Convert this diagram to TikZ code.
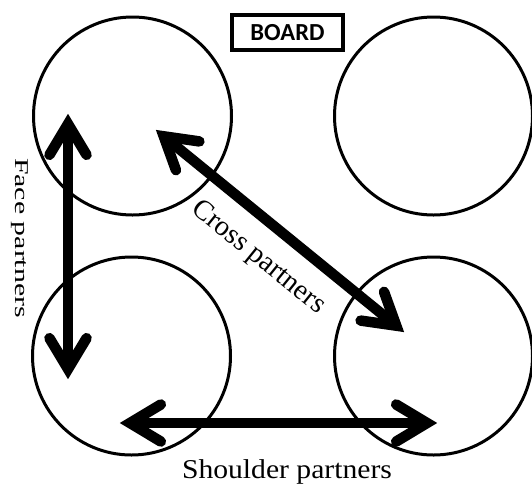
\documentclass[tikz,border=0pt]{standalone}
\usepackage{fontspec}
\setmainfont{Liberation Serif}
\newfontfamily\boardfont{Carlito}
\usetikzlibrary{calc}

\tikzset{
  seat/.style={circle, draw, line width=3pt, minimum size=198pt, inner sep=0pt},
  boardbox/.style={draw, line width=4pt, minimum width=111pt, minimum height=35pt,
    inner sep=0pt, font=\boardfont\bfseries\fontsize{24.5}{24.5}\selectfont},
  shaft/.style={line width=10.5pt, line cap=butt},
  barb/.style={line width=10.5pt, line cap=round, line join=miter, miter limit=10},
  tag/.style={inner sep=0pt, anchor=base, font=\fontsize{28.5}{28.5}\selectfont}
}

% thick double-headed arrow with open chevron heads between two named points
\newcommand\partnerlink[2]{%
  \coordinate (#1-apex) at ($(#1)!10pt!(#2)$);
  \coordinate (#2-apex) at ($(#2)!10pt!(#1)$);
  \draw[shaft] (#1-apex) -- (#2-apex);
  \draw[barb] ($(#1-apex)!36pt!31:(#2)$) -- (#1-apex) -- ($(#1-apex)!36pt!-31:(#2)$);
  \draw[barb] ($(#2-apex)!36pt!31:(#1)$) -- (#2-apex) -- ($(#2-apex)!36pt!-31:(#1)$);
}

\begin{document}
\begin{tikzpicture}[x=1pt,y=-1pt]
\useasboundingbox (0,0) rectangle (532,483);

% the four seats
\node[seat] (tl) at (132.5,116) {};
\node[seat] (tr) at (433.5,116) {};
\node[seat] (bl) at (131.5,356) {};
\node[seat] (br) at (433.5,356) {};

% board sign
\node[boardbox] (board) at (287.5,32.5) {BOARD};

% arrow end points
\coordinate (faceTop) at (68,114);
\coordinate (faceBot) at (68,379);
\coordinate (crossA) at (156,130);
\coordinate (crossB) at (404,332);
\coordinate (shoulderL) at (120,423);
\coordinate (shoulderR) at (437,423);

\partnerlink{faceTop}{faceBot}
\partnerlink{crossA}{crossB}
\partnerlink{shoulderL}{shoulderR}

% labels
\node[tag, rotate=-90, xscale=1.53, font=\fontsize{19.5}{19.5}\selectfont] (facelbl) at (15,238) {Face partners};
\node[tag, rotate=-39] (crosslbl) at (254,263) {Cross partners};
\node[tag, xscale=1.09, font=\fontsize{27.2}{27.2}\selectfont] (shoulderlbl) at (287,478) {Shoulder partners};
\end{tikzpicture}
\end{document}
